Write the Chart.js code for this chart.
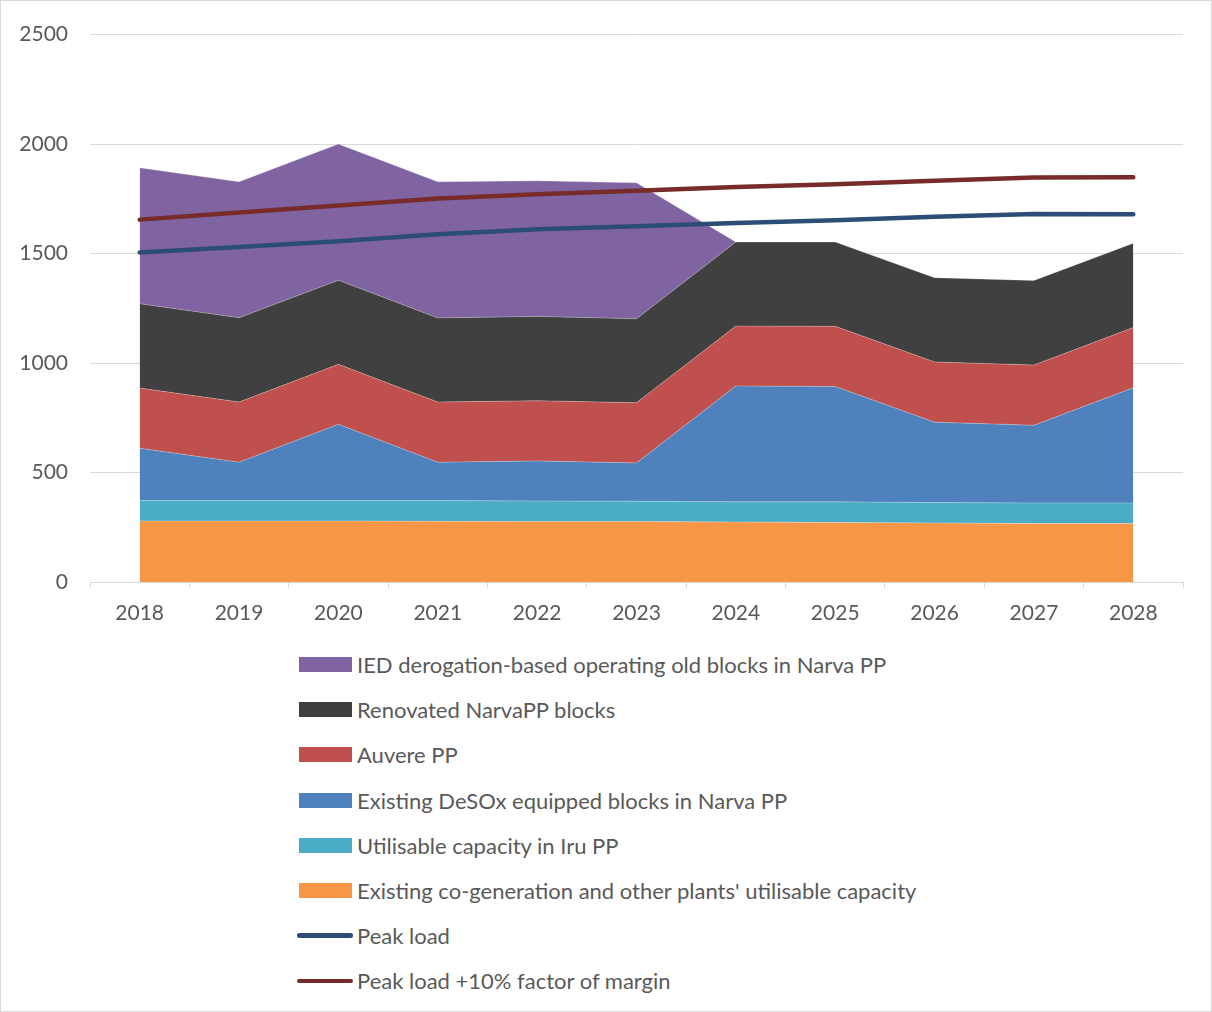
<!DOCTYPE html>
<html>
<head>
<meta charset="utf-8">
<title>Generation capacity and peak load 2018–2028</title>
<script src="https://cdn.jsdelivr.net/npm/chart.js@4/dist/chart.umd.min.js"></script>
<style>
  html, body { margin: 0; padding: 0; background: #ffffff; }
  #page { position: relative; width: 1212px; height: 1012px; overflow: hidden; }
  #frame { position: absolute; left: 0; top: 0; width: 1212px; height: 1012px; box-sizing: border-box;
           border: 1px solid #d9d9d9; pointer-events: none; }
  #chart { position: absolute; left: 0; top: 0; }
  #legend { position: absolute; left: 297px; top: 642px; font-family: Lato, "Open Sans", sans-serif;
            font-size: 22px; color: #595959; }
  .row { display: flex; align-items: center; height: 45.2px; }
  .sw { width: 56px; display: flex; align-items: center; justify-content: flex-start; }
  .box { width: 53px; height: 15px; margin-left: 2px; }
  .ln { width: 56px; height: 4.5px; border-radius: 2.25px; }
  .lbl { margin-left: 4px; white-space: nowrap; }
</style>
</head>
<body>
<div id="page">
  <canvas id="chart" width="1212" height="640"></canvas>
  <div id="legend"></div>
  <div id="frame"></div>
</div>
<script>
// Years on the category axis
const years = ['2018', '2019', '2020', '2021', '2022', '2023', '2024', '2025', '2026', '2027', '2028'];

// Stacked capacity components, MW (bottom to top)
const cogenCapacity   = [279, 279, 279, 277, 276, 276, 274, 272, 270, 267, 267];
const iruCapacity     = [93, 93, 93, 95, 94, 93, 92, 94, 93, 94, 94];
const desoxBlocks     = [239, 175, 348, 175, 183, 175, 529, 527, 367, 355, 526];
const auverePP        = [275, 275, 274, 275, 275, 275, 274, 275, 275, 275, 275];
const renovatedBlocks = [385, 385, 384, 384, 385, 383, 384, 385, 385, 386, 385];
const iedOldBlocks    = [621, 621, 622, 622, 619, 621, 0, 0, 0, 0, 0];

// Demand lines, MW
const peakLoad        = [1505, 1530, 1556, 1588, 1611, 1625, 1640, 1652, 1668, 1681, 1680];
const peakLoadMargin  = [1655, 1688, 1720, 1752, 1771, 1787, 1804, 1817, 1833, 1847, 1849];

// Value axis ticks
const yTickValues = [0, 500, 1000, 1500, 2000, 2500];

const labelFont = { family: 'Lato, "Open Sans", sans-serif', size: 21 };
const textColor = '#595959';
const gridColor = '#d9d9d9';

function area(label, data, color, fillTarget) {
  return {
    label, data,
    backgroundColor: color,
    borderColor: 'rgba(255,255,255,0.35)',
    borderWidth: 0.75,
    pointRadius: 0,
    tension: 0,
    fill: fillTarget,
    stack: 'capacity',
    kind: 'area'
  };
}

function demandLine(label, data, color, stackId) {
  return {
    label, data,
    borderColor: color,
    backgroundColor: color,
    borderWidth: 4.5,
    borderCapStyle: 'round',
    borderJoinStyle: 'round',
    pointRadius: 0,
    tension: 0,
    fill: false,
    stack: stackId,
    order: -1,
    kind: 'line'
  };
}

const datasets = [
  area("Existing co-generation and other plants' utilisable capacity", cogenCapacity, '#F79646', 'origin'),
  area('Utilisable capacity in Iru PP', iruCapacity, '#4BACC6', '-1'),
  area('Existing DeSOx equipped blocks in Narva PP', desoxBlocks, '#4F81BD', '-1'),
  area('Auvere PP', auverePP, '#C0504D', '-1'),
  area('Renovated NarvaPP blocks', renovatedBlocks, '#404040', '-1'),
  area('IED derogation-based operating old blocks in Narva PP', iedOldBlocks, '#8064A2', '-1'),
  demandLine('Peak load', peakLoad, '#2C4D75', 'peak'),
  demandLine('Peak load +10% factor of margin', peakLoadMargin, '#772C2A', 'margin')
];

const chart = new Chart(document.getElementById('chart'), {
  type: 'line',
  data: { labels: years, datasets },
  options: {
    responsive: false,
    animation: false,
    events: [],
    layout: { padding: { left: 0, right: 29, top: 34, bottom: 0 } },
    plugins: {
      legend: { display: false },
      tooltip: { enabled: false }
    },
    scales: {
      x: {
        type: 'category',
        offset: true,
        grid: { offset: true, drawOnChartArea: false, drawTicks: true, tickLength: 6, color: gridColor },
        border: { display: true, color: gridColor, width: 1 },
        ticks: { font: labelFont, color: textColor, padding: 13, maxRotation: 0 },
        afterFit: (scale) => { scale.height = 58; }
      },
      y: {
        stacked: true,
        min: 0,
        max: 2500,
        afterBuildTicks: (scale) => { scale.ticks = yTickValues.map(v => ({ value: v })); },
        grid: { color: gridColor, drawTicks: false, lineWidth: 1 },
        border: { display: false },
        ticks: { font: labelFont, color: textColor, padding: 22, callback: (v) => String(v) },
        afterFit: (scale) => { scale.width = 90; }
      }
    }
  }
});

// Legend list: capacity components from top of the stack down, then the demand lines
const legendOrder = [5, 4, 3, 2, 1, 0, 6, 7];
const legendEl = document.getElementById('legend');
legendOrder.forEach(i => {
  const ds = chart.data.datasets[i];
  const row = document.createElement('div');
  row.className = 'row';
  const sw = document.createElement('div');
  sw.className = 'sw';
  const mark = document.createElement('div');
  if (ds.kind === 'area') {
    mark.className = 'box';
    mark.style.background = ds.backgroundColor;
  } else {
    mark.className = 'ln';
    mark.style.background = ds.borderColor;
  }
  sw.appendChild(mark);
  const lbl = document.createElement('span');
  lbl.className = 'lbl';
  lbl.textContent = ds.label;
  row.appendChild(sw);
  row.appendChild(lbl);
  legendEl.appendChild(row);
});
</script>
</body>
</html>
